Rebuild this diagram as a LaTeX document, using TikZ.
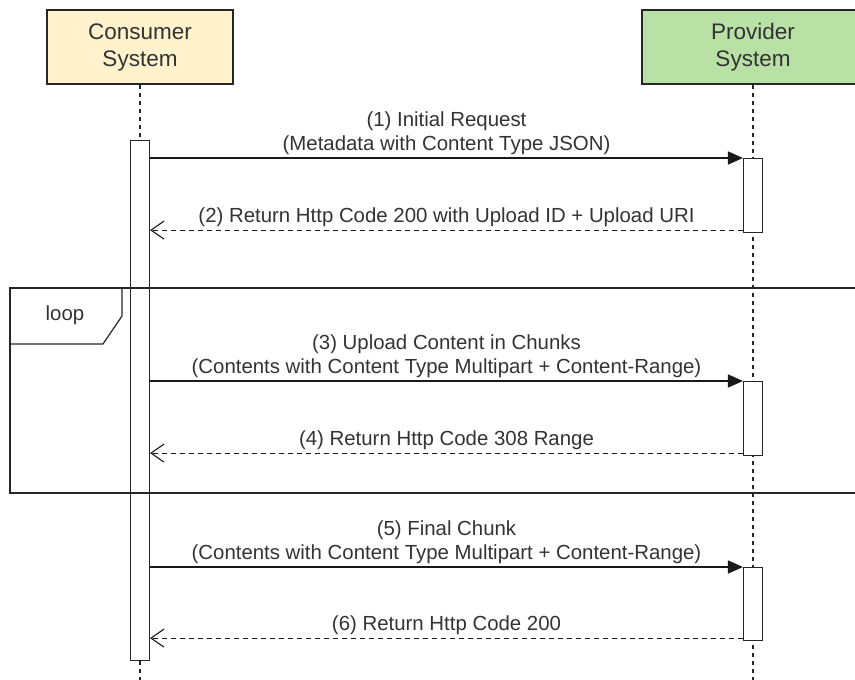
\documentclass[tikz,border=0pt]{standalone}
\usepackage{fontspec}
\setmainfont{Liberation Sans}
\usetikzlibrary{arrows.meta}
\definecolor{fondoconsumidor}{RGB}{255,242,204}
\definecolor{fondoproveedor}{RGB}{185,224,165}
\definecolor{texto}{RGB}{51,51,51}

\begin{document}
\begin{tikzpicture}[x=1pt, y=-1pt,
    caja/.style={draw=black!85, line width=1.3pt, minimum height=74pt, align=center, font=\fontsize{22.5}{27}\selectfont, text=texto},
    barra/.style={draw=black!85, fill=white, line width=1.1pt, minimum width=19pt, inner sep=0pt, anchor=north},
    vida/.style={draw=black!85, line width=1.1pt, dash pattern=on 4pt off 4pt},
    marco/.style={draw=black!85, line width=1.2pt},
    llamada/.style={draw=black!90, line width=1.3pt, -{Triangle[length=15pt, width=13pt]}},
    retorno/.style={draw=black!90, line width=1.1pt, dash pattern=on 5pt off 4pt, -{Straight Barb[length=13pt, width=18pt]}},
    etiqueta/.style={font=\fontsize{20.4}{24}\selectfont, text=texto, align=center, inner sep=3pt}
]
    \useasboundingbox (0,0) rectangle (855,680);
    \clip (0,0) rectangle (855,680);

    % Cabeceras
    \node[caja, fill=fondoconsumidor, minimum width=186pt] (consumidor) at (140,47) {Consumer\\System};
    \node[caja, fill=fondoproveedor, minimum width=222pt] (proveedor) at (753,47) {Provider\\System};

    % Lineas de vida
    \coordinate (finC) at (140,680);
    \coordinate (finP) at (753,680);
    \draw[vida] (proveedor.south) -- (finP);

    % Barras de activacion
    \node[barra, minimum height=520pt] (barraC) at (140,140) {};
    \node[barra, minimum height=74pt] (barraP1) at (753,158) {};
    \node[barra, minimum height=74pt] (barraP2) at (753,381) {};
    \node[barra, minimum height=73pt] (barraP3) at (753,567) {};
    \draw[vida] (consumidor.south) -- (barraC.north);
    \draw[vida] (barraC.south) -- (finC);

    % Bucle
    \draw[marco] (10,288) rectangle (870,493);
    \draw[marco] (10,344) -- (103,344) -- (122,316) -- (122,288);
    \node[etiqueta] (bucle) at (65,315) {loop};

    % Mensajes
    \draw[llamada] (barraC.east |- barraP1.north) -- (barraP1.north west)
        node[etiqueta, midway, above] {(1) Initial Request\\(Metadata with Content Type JSON)};
    \draw[retorno] ([yshift=3pt]barraP1.south west) coordinate (r2) -- (barraC.east |- r2)
        node[etiqueta, midway, above] {(2) Return Http Code 200 with Upload ID + Upload URI};

    \draw[llamada] (barraC.east |- barraP2.north) -- (barraP2.north west)
        node[etiqueta, midway, above] {(3) Upload Content in Chunks\\(Contents with Content Type Multipart + Content-Range)};
    \draw[retorno] ([yshift=3pt]barraP2.south west) coordinate (r4) -- (barraC.east |- r4)
        node[etiqueta, midway, above] {(4) Return Http Code 308 Range};

    \draw[llamada] (barraC.east |- barraP3.north) -- (barraP3.north west)
        node[etiqueta, midway, above] {(5) Final Chunk\\(Contents with Content Type Multipart + Content-Range)};
    \draw[retorno] ([yshift=3pt]barraP3.south west) coordinate (r6) -- (barraC.east |- r6)
        node[etiqueta, midway, above] {(6) Return Http Code 200};
\end{tikzpicture}
\end{document}
